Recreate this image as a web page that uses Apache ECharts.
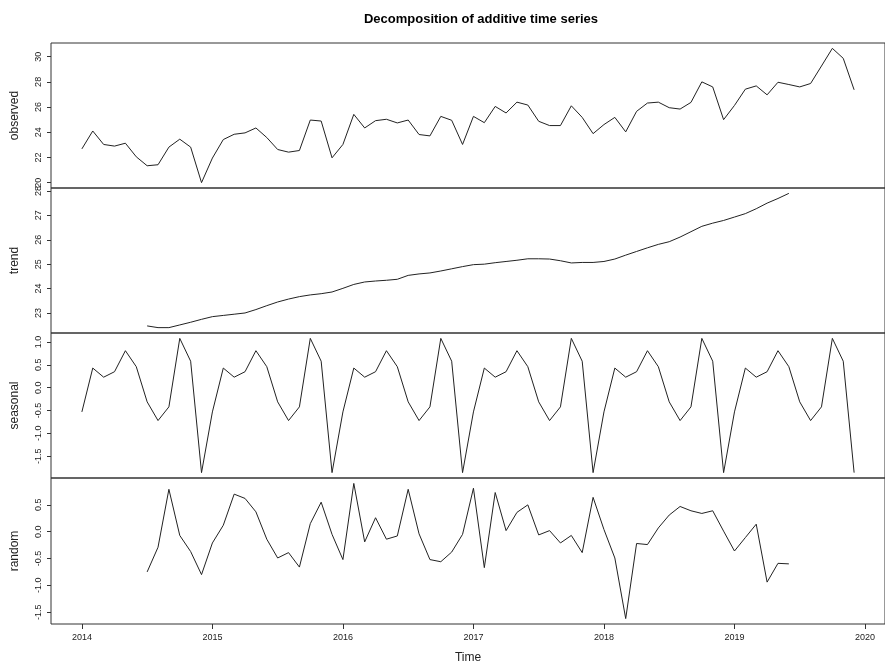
<!DOCTYPE html>
<html><head><meta charset="utf-8">
<script src="https://cdn.jsdelivr.net/npm/echarts@6/dist/echarts.min.js"></script>
<style>html,body{margin:0;padding:0;background:#fff}#c{width:885px;height:666px}</style>
</head><body><div id="c"></div>
<script>
var startYear = 2014, freq = 12;
var observed = [
 22.68,24.10,23.03,22.90,23.13,22.05,21.34,21.42,22.82,23.45,22.82,20.00,
 21.95,23.42,23.84,23.95,24.34,23.58,22.63,22.42,22.55,24.97,24.89,21.97,
 23.03,25.42,24.34,24.92,25.03,24.74,24.97,23.82,23.71,25.26,24.95,23.03,
 25.26,24.76,26.05,25.53,26.39,26.16,24.87,24.53,24.53,26.10,25.18,23.89,
 24.61,25.18,24.03,25.66,26.32,26.39,25.95,25.84,26.37,28.00,27.60,25.00,
 26.13,27.42,27.68,26.97,27.97,27.79,27.60,27.87,29.26,30.66,29.87,27.37];
var trend = [
 null,null,null,null,null,null,22.47,22.40,22.40,22.51,22.62,22.74,
 22.85,22.90,22.95,23.00,23.14,23.30,23.45,23.57,23.67,23.74,23.79,23.86,
 24.01,24.17,24.27,24.31,24.34,24.38,24.54,24.60,24.64,24.72,24.81,24.90,
 24.98,25.00,25.06,25.11,25.16,25.22,25.22,25.21,25.14,25.05,25.07,25.07,
 25.11,25.21,25.37,25.52,25.67,25.81,25.92,26.11,26.33,26.55,26.68,26.79,
 26.93,27.07,27.27,27.50,27.69,27.90,null,null,null,null,null,null];
var seasonalCycle = [-0.53,0.43,0.23,0.35,0.81,0.46,-0.31,-0.72,-0.42,1.08,0.58,-1.86];
var random = [
 null,null,null,null,null,null,-0.75,-0.29,0.79,-0.07,-0.37,-0.80,
 -0.21,0.12,0.70,0.62,0.37,-0.14,-0.49,-0.39,-0.66,0.15,0.55,-0.05,
 -0.52,0.90,-0.19,0.26,-0.14,-0.08,0.79,-0.04,-0.52,-0.56,-0.38,-0.05,
 0.81,-0.67,0.73,0.02,0.36,0.50,-0.06,0.02,-0.21,-0.07,-0.39,0.64,
 0.04,-0.49,-1.62,-0.22,-0.24,0.07,0.31,0.47,0.39,0.34,0.39,0.01,
 -0.36,-0.11,0.14,-0.94,-0.59,-0.60,null,null,null,null,null,null];
var xTicks = [2014,2015,2016,2017,2018,2019,2020];
var yTicksObserved = [20,22,24,26,28,30];
var yTicksTrend = [23,24,25,26,27,28];
var yTicksSeasonal = [-1.5,-1.0,-0.5,0.0,0.5,1.0];
var yTicksRandom = [-1.5,-1.0,-0.5,0.0,0.5];
var panelNames = ['observed','trend','seasonal','random'];

var seasonal = [];
for (var i = 0; i < observed.length; i++) seasonal.push(seasonalCycle[i % 12]);
var times = observed.map(function(_, i){ return startYear + i / freq; });
function pairs(arr){ return arr.map(function(v, i){ return [times[i], v]; }); }
function ext(arr){
  var v = arr.filter(function(x){ return x != null; });
  var mn = Math.min.apply(null, v), mx = Math.max.apply(null, v), r = mx - mn;
  return [mn - 0.04 * r, mx + 0.04 * r];
}
var tr = ext(times);
var series = [observed, trend, seasonal, random];
var yTicks = [yTicksObserved, yTicksTrend, yTicksSeasonal, yTicksRandom];
var decimals = [0, 0, 1, 1];
var tops = [43, 188, 333, 478];
var heights = [145, 145, 145, 146];

var fontFam = '"Liberation Sans", Arial, sans-serif';
var grids = [], xAxes = [], yAxes = [], ser = [];
for (var k = 0; k < 4; k++) {
  grids.push({left: 51, top: tops[k], width: 845, height: heights[k], show: true,
    borderColor: '#333', borderWidth: 1, backgroundColor: 'transparent', containLabel: false});
  var last = k === 3;
  xAxes.push({type: 'value', gridIndex: k, min: tr[0], max: tr[1], position: 'bottom',
    axisLine: {show: false, onZero: false}, splitLine: {show: false},
    axisTick: {show: last, customValues: xTicks, length: 5, lineStyle: {color: '#333'}},
    axisLabel: {show: last, customValues: xTicks, color: '#222', fontSize: 9, fontFamily: fontFam, margin: 9,
      formatter: function(v){ return String(v); }},
    name: last ? 'Time' : '', nameLocation: 'middle', nameGap: 28,
    nameTextStyle: {fontSize: 12, color: '#222', fontFamily: fontFam}});
  var e = ext(series[k]);
  (function(dec){
  yAxes.push({type: 'value', gridIndex: k, min: e[0], max: e[1], position: 'left',
    axisLine: {show: false, onZero: false}, splitLine: {show: false},
    axisTick: {show: true, customValues: yTicks[k], length: 4, lineStyle: {color: '#333'}},
    axisLabel: {show: true, customValues: yTicks[k], rotate: 90, color: '#222', fontSize: 9, fontFamily: fontFam, margin: 8,
      formatter: function(v){ return v.toFixed(dec); }},
    name: panelNames[k], nameLocation: 'middle', nameGap: 30, nameRotate: 90,
    nameTextStyle: {fontSize: 12, color: '#222', fontFamily: fontFam}});
  })(decimals[k]);
  ser.push({type: 'line', xAxisIndex: k, yAxisIndex: k, data: pairs(series[k]),
    showSymbol: false, connectNulls: false, lineStyle: {color: '#222', width: 1}, animation: false, silent: true});
}

var chart = echarts.init(document.getElementById('c'), null, {renderer: 'canvas'});
chart.setOption({
  backgroundColor: '#fff',
  animation: false,
  title: {text: 'Decomposition of additive time series', left: 476, top: 8, textAlign: 'center',
    textStyle: {fontSize: 13, fontWeight: 'bold', color: '#000', fontFamily: fontFam}},
  grid: grids, xAxis: xAxes, yAxis: yAxes, series: ser
});
</script></body></html>
